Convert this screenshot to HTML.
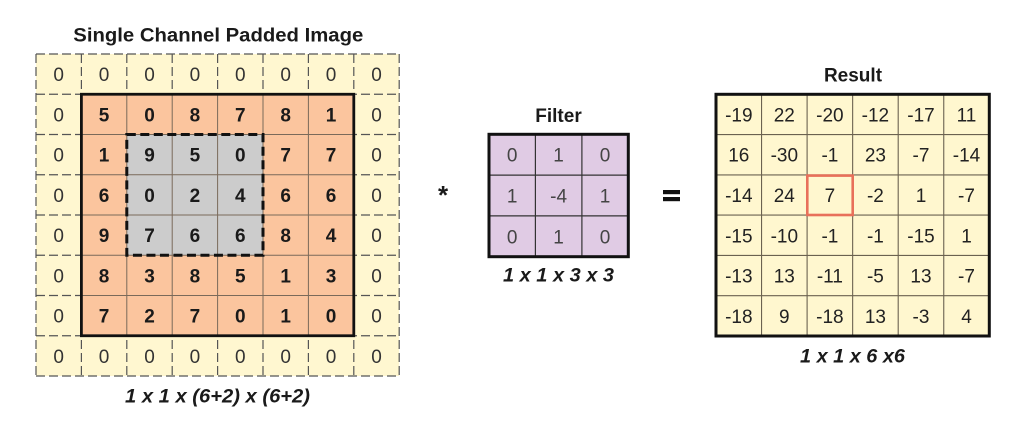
<!DOCTYPE html>
<html><head><meta charset="utf-8"><style>
html,body{margin:0;padding:0;background:#fff;}
svg{display:block;}
text{font-family:"Liberation Sans",Arial,sans-serif;}
</style></head><body>
<svg width="1024" height="421" viewBox="0 0 1024 421" xmlns="http://www.w3.org/2000/svg">
<rect width="1024" height="421" fill="#fff"/>

<!-- Titles -->
<text x="218.3" y="41.5" font-size="19" font-weight="bold" text-anchor="middle" fill="#1a1a1a" textLength="290" lengthAdjust="spacingAndGlyphs">Single Channel Padded Image</text>
<text x="558.5" y="122" font-size="19" font-weight="bold" text-anchor="middle" fill="#1a1a1a">Filter</text>
<text x="853" y="81.7" font-size="19" font-weight="bold" text-anchor="middle" fill="#1a1a1a">Result</text>

<!-- LEFT GRID -->
<rect x="36" y="54" width="363.2" height="322" fill="#fff7d0"/>
<g stroke="#555" stroke-width="1.2" stroke-dasharray="9 4" fill="none">
  <line x1="36" y1="54" x2="36" y2="376"/>
  <line x1="81.4" y1="54" x2="81.4" y2="376"/>
  <line x1="126.8" y1="54" x2="126.8" y2="376"/>
  <line x1="172.2" y1="54" x2="172.2" y2="376"/>
  <line x1="217.6" y1="54" x2="217.6" y2="376"/>
  <line x1="263" y1="54" x2="263" y2="376"/>
  <line x1="308.4" y1="54" x2="308.4" y2="376"/>
  <line x1="353.8" y1="54" x2="353.8" y2="376"/>
  <line x1="399.2" y1="54" x2="399.2" y2="376"/>
  <line x1="36" y1="54" x2="399.2" y2="54"/>
  <line x1="36" y1="94.25" x2="399.2" y2="94.25"/>
  <line x1="36" y1="134.5" x2="399.2" y2="134.5"/>
  <line x1="36" y1="174.75" x2="399.2" y2="174.75"/>
  <line x1="36" y1="215" x2="399.2" y2="215"/>
  <line x1="36" y1="255.25" x2="399.2" y2="255.25"/>
  <line x1="36" y1="295.5" x2="399.2" y2="295.5"/>
  <line x1="36" y1="335.75" x2="399.2" y2="335.75"/>
  <line x1="36" y1="376" x2="399.2" y2="376"/>
</g>
<rect x="81.4" y="94.25" width="272.4" height="241.5" fill="#fbc59e"/>
<rect x="126.8" y="134.5" width="136.2" height="120.75" fill="#cccccc"/>
<g stroke="#7a6a5a" stroke-width="1" fill="none">
  <line x1="126.8" y1="94.25" x2="126.8" y2="335.75"/>
  <line x1="172.2" y1="94.25" x2="172.2" y2="335.75"/>
  <line x1="217.6" y1="94.25" x2="217.6" y2="335.75"/>
  <line x1="263" y1="94.25" x2="263" y2="335.75"/>
  <line x1="308.4" y1="94.25" x2="308.4" y2="335.75"/>
  <line x1="81.4" y1="134.5" x2="353.8" y2="134.5"/>
  <line x1="81.4" y1="174.75" x2="353.8" y2="174.75"/>
  <line x1="81.4" y1="215" x2="353.8" y2="215"/>
  <line x1="81.4" y1="255.25" x2="353.8" y2="255.25"/>
  <line x1="81.4" y1="295.5" x2="353.8" y2="295.5"/>
</g>
<rect x="81.4" y="94.25" width="272.4" height="241.5" fill="none" stroke="#111" stroke-width="2.8"/>
<rect x="126.8" y="134.5" width="136.2" height="120.75" fill="none" stroke="#111" stroke-width="3" stroke-dasharray="9 4.5"/>

<g font-size="19" text-anchor="middle" fill="#333">
  <text x="58.7" y="81.1">0</text><text x="104.1" y="81.1">0</text><text x="149.5" y="81.1">0</text><text x="194.9" y="81.1">0</text><text x="240.3" y="81.1">0</text><text x="285.7" y="81.1">0</text><text x="331.1" y="81.1">0</text><text x="376.5" y="81.1">0</text>
  <text x="58.7" y="362.9">0</text><text x="104.1" y="362.9">0</text><text x="149.5" y="362.9">0</text><text x="194.9" y="362.9">0</text><text x="240.3" y="362.9">0</text><text x="285.7" y="362.9">0</text><text x="331.1" y="362.9">0</text><text x="376.5" y="362.9">0</text>
  <text x="58.7" y="121.4">0</text><text x="376.5" y="121.4">0</text>
  <text x="58.7" y="161.6">0</text><text x="376.5" y="161.6">0</text>
  <text x="58.7" y="201.9">0</text><text x="376.5" y="201.9">0</text>
  <text x="58.7" y="242.1">0</text><text x="376.5" y="242.1">0</text>
  <text x="58.7" y="282.4">0</text><text x="376.5" y="282.4">0</text>
  <text x="58.7" y="322.6">0</text><text x="376.5" y="322.6">0</text>
</g>
<g font-size="19" font-weight="bold" text-anchor="middle" fill="#1a1a1a">
  <text x="104.1" y="121.4">5</text><text x="149.5" y="121.4">0</text><text x="194.9" y="121.4">8</text><text x="240.3" y="121.4">7</text><text x="285.7" y="121.4">8</text><text x="331.1" y="121.4">1</text>
  <text x="104.1" y="161.6">1</text><text x="149.5" y="161.6">9</text><text x="194.9" y="161.6">5</text><text x="240.3" y="161.6">0</text><text x="285.7" y="161.6">7</text><text x="331.1" y="161.6">7</text>
  <text x="104.1" y="201.9">6</text><text x="149.5" y="201.9">0</text><text x="194.9" y="201.9">2</text><text x="240.3" y="201.9">4</text><text x="285.7" y="201.9">6</text><text x="331.1" y="201.9">6</text>
  <text x="104.1" y="242.1">9</text><text x="149.5" y="242.1">7</text><text x="194.9" y="242.1">6</text><text x="240.3" y="242.1">6</text><text x="285.7" y="242.1">8</text><text x="331.1" y="242.1">4</text>
  <text x="104.1" y="282.4">8</text><text x="149.5" y="282.4">3</text><text x="194.9" y="282.4">8</text><text x="240.3" y="282.4">5</text><text x="285.7" y="282.4">1</text><text x="331.1" y="282.4">3</text>
  <text x="104.1" y="322.6">7</text><text x="149.5" y="322.6">2</text><text x="194.9" y="322.6">7</text><text x="240.3" y="322.6">0</text><text x="285.7" y="322.6">1</text><text x="331.1" y="322.6">0</text>
</g>
<text x="217.5" y="402.5" font-size="19" font-weight="bold" font-style="italic" text-anchor="middle" fill="#1a1a1a" textLength="185" lengthAdjust="spacingAndGlyphs">1 x 1 x (6+2) x (6+2)</text>

<!-- Operator * -->
<text x="443" y="204" font-size="26" font-weight="bold" text-anchor="middle" fill="#1a1a1a">*</text>

<!-- FILTER -->
<rect x="489" y="134.3" width="139.3" height="122.4" fill="#e0cbe4"/>
<g stroke="#333" stroke-width="1.2">
  <line x1="535.4" y1="134.3" x2="535.4" y2="256.7"/>
  <line x1="581.9" y1="134.3" x2="581.9" y2="256.7"/>
  <line x1="489" y1="175.1" x2="628.3" y2="175.1"/>
  <line x1="489" y1="215.9" x2="628.3" y2="215.9"/>
</g>
<rect x="489" y="134.3" width="139.3" height="122.4" fill="none" stroke="#111" stroke-width="3"/>
<g font-size="19" text-anchor="middle" fill="#444">
  <text x="512.2" y="161.7">0</text><text x="558.6" y="161.7">1</text><text x="605.1" y="161.7">0</text>
  <text x="512.2" y="202.5">1</text><text x="558.6" y="202.5">-4</text><text x="605.1" y="202.5">1</text>
  <text x="512.2" y="243.3">0</text><text x="558.6" y="243.3">1</text><text x="605.1" y="243.3">0</text>
</g>
<text x="558.5" y="281.5" font-size="19" font-weight="bold" font-style="italic" text-anchor="middle" fill="#1a1a1a" textLength="111" lengthAdjust="spacingAndGlyphs">1 x 1 x 3 x 3</text>

<!-- Operator = -->
<rect x="663" y="190" width="17" height="4.2" fill="#111"/>
<rect x="663" y="197" width="17" height="4.2" fill="#111"/>

<!-- RESULT -->
<rect x="716" y="94.3" width="273.3" height="241.7" fill="#fff7cf"/>
<g stroke="#6b6250" stroke-width="1.1">
  <line x1="761.55" y1="94.3" x2="761.55" y2="336"/>
  <line x1="807.1" y1="94.3" x2="807.1" y2="336"/>
  <line x1="852.65" y1="94.3" x2="852.65" y2="336"/>
  <line x1="898.2" y1="94.3" x2="898.2" y2="336"/>
  <line x1="943.75" y1="94.3" x2="943.75" y2="336"/>
  <line x1="716" y1="134.6" x2="989.3" y2="134.6"/>
  <line x1="716" y1="174.9" x2="989.3" y2="174.9"/>
  <line x1="716" y1="215.1" x2="989.3" y2="215.1"/>
  <line x1="716" y1="255.4" x2="989.3" y2="255.4"/>
  <line x1="716" y1="295.7" x2="989.3" y2="295.7"/>
</g>
<rect x="716" y="94.3" width="273.3" height="241.7" fill="none" stroke="#111" stroke-width="3"/>
<rect x="807.3" y="175.6" width="45.4" height="39.4" fill="none" stroke="#e8705a" stroke-width="2.6"/>
<g font-size="19" text-anchor="middle" fill="#222">
  <text x="738.8" y="121.4">-19</text><text x="784.3" y="121.4">22</text><text x="829.9" y="121.4">-20</text><text x="875.4" y="121.4">-12</text><text x="921" y="121.4">-17</text><text x="966.5" y="121.4">11</text>
  <text x="738.8" y="161.7">16</text><text x="784.3" y="161.7">-30</text><text x="829.9" y="161.7">-1</text><text x="875.4" y="161.7">23</text><text x="921" y="161.7">-7</text><text x="966.5" y="161.7">-14</text>
  <text x="738.8" y="202">-14</text><text x="784.3" y="202">24</text><text x="829.9" y="202">7</text><text x="875.4" y="202">-2</text><text x="921" y="202">1</text><text x="966.5" y="202">-7</text>
  <text x="738.8" y="242.3">-15</text><text x="784.3" y="242.3">-10</text><text x="829.9" y="242.3">-1</text><text x="875.4" y="242.3">-1</text><text x="921" y="242.3">-15</text><text x="966.5" y="242.3">1</text>
  <text x="738.8" y="282.6">-13</text><text x="784.3" y="282.6">13</text><text x="829.9" y="282.6">-11</text><text x="875.4" y="282.6">-5</text><text x="921" y="282.6">13</text><text x="966.5" y="282.6">-7</text>
  <text x="738.8" y="322.9">-18</text><text x="784.3" y="322.9">9</text><text x="829.9" y="322.9">-18</text><text x="875.4" y="322.9">13</text><text x="921" y="322.9">-3</text><text x="966.5" y="322.9">4</text>
</g>
<text x="852.5" y="362.5" font-size="19" font-weight="bold" font-style="italic" text-anchor="middle" fill="#1a1a1a" textLength="105" lengthAdjust="spacingAndGlyphs">1 x 1 x 6 x6</text>
</svg>
</body></html>
